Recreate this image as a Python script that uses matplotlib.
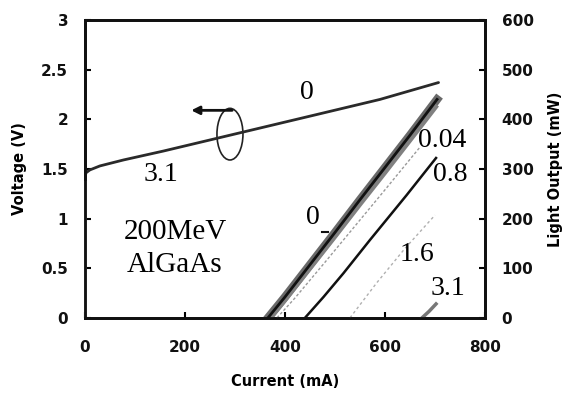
import numpy as np
from matplotlib import pyplot as plt
from matplotlib.patches import Ellipse

# == Dados ==#
# Tensão (eixo esquerdo)
I_v = [0, 2, 10, 30, 77, 157, 257, 357, 457, 590, 707]
V = [1.40, 1.46, 1.49, 1.53, 1.59, 1.68, 1.80, 1.92, 2.04, 2.20, 2.37]

# Potência óptica (eixo direito), dose 0 ... 3.1
I_0 = [366, 400, 450, 500, 550, 600, 650, 704]
L_0 = [0, 42, 107, 172, 238, 303, 368, 440]
I_004 = [372, 400, 450, 500, 550, 600, 650, 702]
L_004 = [0, 35, 99, 163, 228, 292, 357, 425]
I_mid = [384, 420, 480, 540, 600, 670]
L_mid = [0, 40, 112, 185, 258, 344]
I_08 = [440, 477, 517, 570, 643, 702]
L_08 = [0, 42, 90, 157, 247, 322]
I_16 = [530, 583, 640, 700]
L_16 = [0, 70, 140, 207]
I_31 = [674, 688, 702]
L_31 = [0, 13, 28]

fig = plt.figure(figsize=(5.66, 4.08), dpi=100)
ax = fig.add_axes([0.150, 0.221, 0.707, 0.730])
ax2 = ax.twinx()

ax.set_xlim(0, 800)
ax.set_ylim(0, 3)
ax2.set_ylim(0, 600)

# curva de tensão
ax.plot(I_v, V, color='#2a2a2a', lw=2.0, solid_capstyle='round')

# curvas de luz
ax2.plot(I_0, L_0, color='#444444', lw=6.0, alpha=0.8)
ax2.plot(I_004, L_004, color='#808080', lw=3.0)
ax2.plot(I_0, L_0, color='#111111', lw=2.0)
ax2.plot(I_mid, L_mid, color='#9a9a9a', lw=1.0, ls=(0, (2, 1.5)))
ax2.plot(I_08, L_08, color='#111111', lw=1.8)
ax2.plot(I_16, L_16, color='#b0b0b0', lw=1.0, ls=(0, (2, 2)))
ax2.plot(I_31, L_31, color='#777777', lw=2.5)

# elipse e seta
ax.add_patch(Ellipse((290, 1.85), 52, 0.52, fill=False, ec='#222222', lw=1.2))
ax.annotate('', xy=(207, 2.09), xytext=(300, 2.09),
            arrowprops=dict(arrowstyle='-|>', color='#111111', lw=2.0,
                            mutation_scale=12))

serif = 'Liberation Serif'
fs = 20
ax.text(444, 2.27, '0', fontsize=fs, family=serif, ha='center', va='center')
ax.text(153, 1.44, '3.1', fontsize=fs, family=serif, ha='center', va='center')
ax.text(180, 0.86, '200MeV', fontsize=21, family=serif, ha='center', va='center')
ax.text(180, 0.53, 'AlGaAs', fontsize=21, family=serif, ha='center', va='center')
ax2.text(456, 203, '0', fontsize=fs, family=serif, ha='center', va='center')
ax2.plot([474, 486], [173, 173], color='#111111', lw=1.5)
ax2.text(666, 358, '0.04', fontsize=fs, family=serif, ha='left', va='center')
ax2.text(730, 288, '0.8', fontsize=fs, family=serif, ha='center', va='center')
ax2.text(664, 127, '1.6', fontsize=fs, family=serif, ha='center', va='center')
ax2.text(726, 60, '3.1', fontsize=fs, family=serif, ha='center', va='center')

# eixos
ax.set_xticks([0, 200, 400, 600, 800])
ax.set_yticks([0, 0.5, 1, 1.5, 2, 2.5, 3])
ax.set_yticklabels(['0', '0.5', '1', '1.5', '2', '2.5', '3'])
ax2.set_yticks([0, 100, 200, 300, 400, 500, 600])
ax.tick_params(axis='y', direction='in', length=4, width=1.5, pad=12,
               labelsize=11)
ax.tick_params(axis='x', direction='in', length=4, width=1.5, pad=16,
               labelsize=11, top=False)
ax2.tick_params(axis='y', direction='in', length=4, width=1.5, pad=12,
                labelsize=11)
for lab in ax.get_xticklabels() + ax.get_yticklabels() + ax2.get_yticklabels():
    lab.set_fontweight('bold')
    lab.set_color('#111111')

for a in (ax, ax2):
    for s in a.spines.values():
        s.set_linewidth(2.0)
        s.set_color('#111111')
ax.spines['left'].set_color('#999999')
ax.plot([0, 0], [1.4, 3], color='#111111', lw=2.0, clip_on=False, zorder=5)

ax.set_xlabel('Current (mA)', fontsize=10.5, fontweight='bold', labelpad=14)
ax.set_ylabel('Voltage (V)', fontsize=10.5, fontweight='bold', labelpad=10)
ax2.set_ylabel('Light Output (mW)', fontsize=10.5, fontweight='bold', labelpad=10)

fig.savefig('out.png', dpi=100)
